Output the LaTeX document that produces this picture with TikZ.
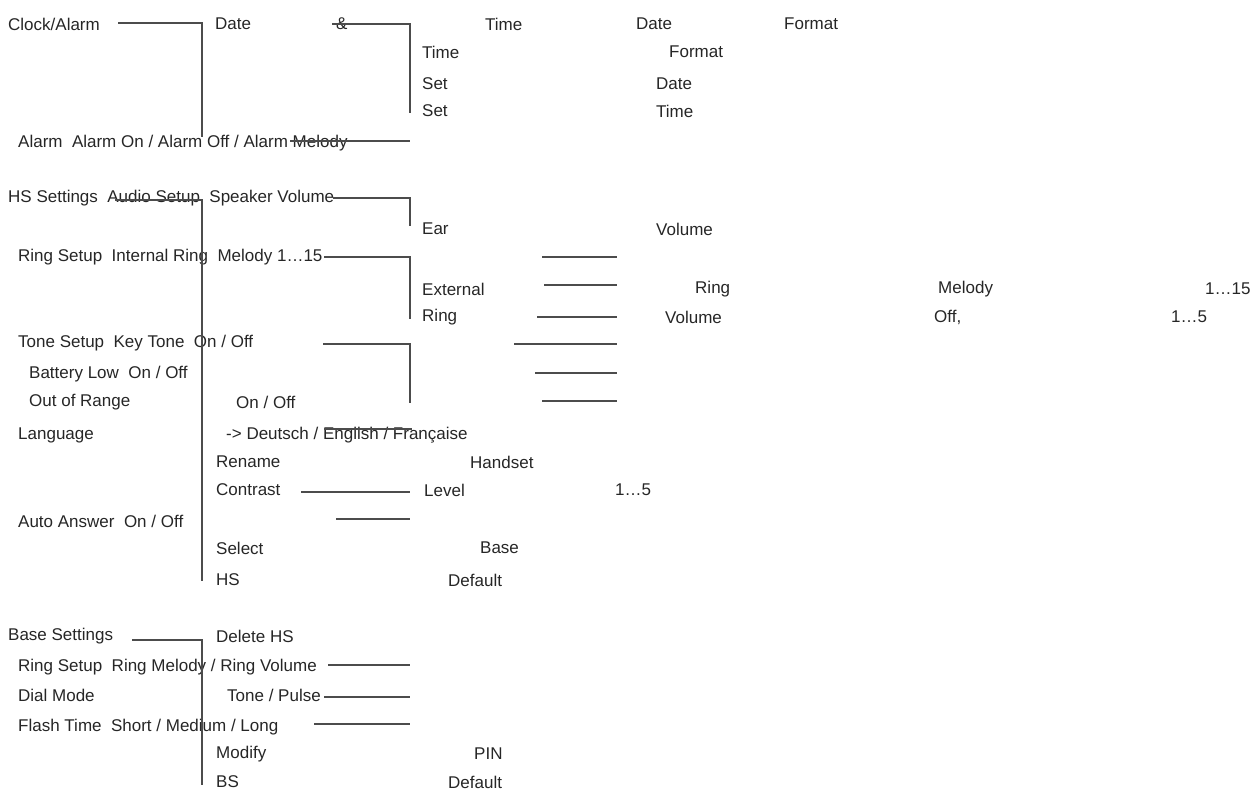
\documentclass[tikz,border=0pt]{standalone}
\usepackage{fontspec}
\setmainfont{Liberation Sans}
\usetikzlibrary{calc}

\tikzset{
  lbl/.style={anchor=west, inner sep=0, text=black!85, font=\fontsize{17}{20}\selectfont},
  wire/.style={draw=black!70, line width=1.8pt}
}

\begin{document}
\begin{tikzpicture}[x=1pt,y=-1pt]
\useasboundingbox (0,0) rectangle (1256,798);
% texts
\node[lbl] (clock) at (8,24) {Clock/Alarm};
\node[lbl] (date) at (215,24) {Date};
\node[lbl] (amp) at (336,24) {\&};
\node[lbl] (timeA) at (485,24) {Time};
\node[lbl] (dateA) at (636,24) {Date};
\node[lbl] (fmtA) at (784,24) {Format};
\node[lbl] (timeB) at (422,52) {Time};
\node[lbl] (fmtB) at (669,52) {Format};
\node[lbl] (setA) at (422,84) {Set};
\node[lbl] (dateB) at (656,84) {Date};
\node[lbl] (setB) at (422,111) {Set};
\node[lbl] (timeC) at (656,111) {Time};
\node[lbl] (alarm) at (18,143) {Alarm\ \ Alarm On / Alarm Off / Alarm Melody};
\node[lbl] (hs) at (8,198) {HS Settings\ \ Audio Setup\ \ Speaker Volume};
\node[lbl] (ear) at (422,229) {Ear};
\node[lbl] (vol) at (656,229) {Volume};
\node[lbl] (ring) at (18,257) {Ring Setup\ \ Internal Ring\ \ Melody 1\ldots15};
\node[lbl] (ext) at (422,289) {External};
\node[lbl] (ringB) at (695,289) {Ring};
\node[lbl] (mel) at (938,289) {Melody};
\node[lbl] (fifteen) at (1205,289) {1\ldots15};
\node[lbl] (ringC) at (422,317) {Ring};
\node[lbl] (volB) at (665,317) {Volume};
\node[lbl] (off) at (934,317) {Off,};
\node[lbl] (five) at (1171,317) {1\ldots5};
\node[lbl] (tone) at (18,343) {Tone Setup\ \ Key Tone\ \ On / Off};
\node[lbl] (batt) at (29,374) {Battery Low\ \ On / Off};
\node[lbl] (range) at (29,402) {Out of Range};
\node[lbl] (rangeB) at (236,402) {On / Off};
\node[lbl] (lang) at (18,435) {Language};
\node[lbl] (langB) at (226,435) {-> Deutsch / English / Française};
\node[lbl] (ren) at (216,462) {Rename};
\node[lbl] (hset) at (470,462) {Handset};
\node[lbl] (con) at (216,490) {Contrast};
\node[lbl] (lvl) at (424,490) {Level};
\node[lbl] (lvlB) at (615,490) {1\ldots5};
\node[lbl] (auto) at (18,521) {Auto Answer\ \ On / Off};
\node[lbl] (sel) at (216,548) {Select};
\node[lbl] (base) at (480,548) {Base};
\node[lbl] (hsB) at (216,580) {HS};
\node[lbl] (defA) at (448,580) {Default};
\node[lbl] (bs) at (8,636) {Base Settings};
\node[lbl] (del) at (216,636) {Delete HS};
\node[lbl] (bring) at (18,667) {Ring Setup\ \ Ring Melody / Ring Volume};
\node[lbl] (dial) at (18,695) {Dial Mode};
\node[lbl] (dialB) at (227,695) {Tone / Pulse};
\node[lbl] (flash) at (18,727) {Flash Time\ \ Short / Medium / Long};
\node[lbl] (mod) at (216,754) {Modify};
\node[lbl] (pin) at (474,754) {PIN};
\node[lbl] (bsB) at (216,782) {BS};
\node[lbl] (defB) at (448,782) {Default};
% brackets
\draw[wire] (118,23) -| (202,137);
\draw[wire] (332,24) -| (410,113);
\draw[wire] (290,141) -- (410,141);
\draw[wire] (115,200) -| (202,581);
\draw[wire] (333,198) -| (410,226);
\draw[wire] (324,257) -| (410,319);
\draw[wire] (323,344) -| (410,403);
\draw[wire] (324,429) -- (412,429);
\draw[wire] (301,492) -- (410,492);
\draw[wire] (336,519) -- (410,519);
\draw[wire] (132,640) -| (202,785);
\draw[wire] (328,665) -- (410,665);
\draw[wire] (324,697) -- (410,697);
\draw[wire] (314,724) -- (410,724);
% dangling lines
\foreach \ya/\xa in {257/542,285/544,317/537,344/514,373/535,401/542}
  \draw[wire] (\xa,\ya) -- (617,\ya);
\end{tikzpicture}
\end{document}
